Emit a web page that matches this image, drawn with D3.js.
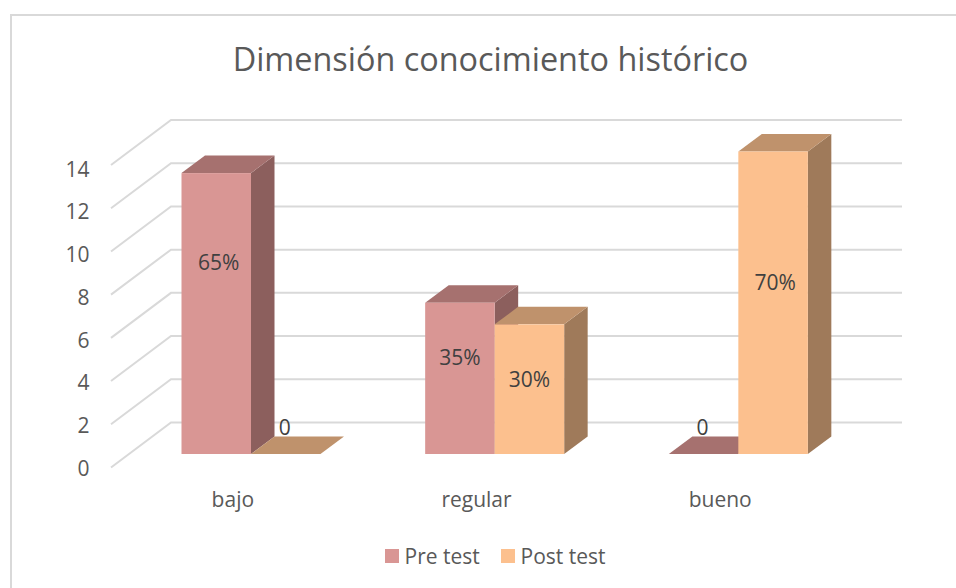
<!DOCTYPE html>
<html>
<head>
<meta charset="utf-8">
<script src="https://cdn.jsdelivr.net/npm/d3@7"></script>
<style>
  html, body { margin: 0; padding: 0; background: #fff; }
  text { font-family: "Open Sans", sans-serif; }
</style>
</head>
<body>
<svg id="chart" width="956" height="588"></svg>
<script>
// chart values
const categories = ["bajo", "regular", "bueno"];
const seriesNames = ["Pre test", "Post test"];
const preTest = [13, 7, 0];
const postTest = [0, 6, 14];
const preLabels = ["65%", "35%", "0"];
const postLabels = ["0", "30%", "70%"];
const yTicks = [0, 2, 4, 6, 8, 10, 12, 14];

const colors = {
  "Pre test": { front: "#d99694", top: "#a6716f", side: "#8c5f5d" },
  "Post test": { front: "#fcc08e", top: "#bf926c", side: "#9f7a5a" }
};

// depth of the fake 3D box: floor and one bar
const wallDx = 60, wallDy = -45;
const barDx = 23.5, barDy = -17.5;
const frontDx = 18, frontDy = -13.5;

const svg = d3.select("#chart");

// outer frame, cut off by the picture on the right and bottom
svg.append("path")
  .attr("d", "M11,588V15H956")
  .attr("fill", "none")
  .attr("stroke", "#d9d9d9")
  .attr("stroke-width", 2);

svg.append("text")
  .attr("x", 490.5)
  .attr("y", 71)
  .attr("text-anchor", "middle")
  .attr("font-size", 32.4)
  .attr("fill", "#595959")
  .text("Dimensión conocimiento histórico");

let xScale = d3.scaleBand().domain(categories).range([111, 842]);
let yScale = d3.scaleLinear().domain([0, 14]).range([467.5, 165]);
let x1Scale = d3.scaleBand().domain(seriesNames).range([52.5, 191.5]);
// tick labels sit on a slightly tighter spacing than the gridlines
let yLabelScale = d3.scaleLinear().domain([0, 14]).range([468.5, 169.5]);

// gridlines, front edge -> back wall -> right end
svg.append("g").selectAll("path").data(yTicks).enter().append("path")
  .attr("d", d => {
    let y = yScale(d);
    return "M111," + y + "L" + (111 + wallDx) + "," + (y + wallDy) + "H902";
  })
  .attr("fill", "none")
  .attr("stroke", "#d9d9d9")
  .attr("stroke-width", 2);

// axes only carry the labels here
let yAxis = d3.axisLeft(yLabelScale).tickValues(yTicks).tickSize(0).tickPadding(0);
let yG = svg.append("g").attr("transform", "translate(89.5,0)").call(yAxis);
yG.select(".domain").remove();
yG.selectAll("text").attr("font-size", 21).attr("fill", "#595959").style("font-family", '"Open Sans", sans-serif');

let xAxis = d3.axisBottom(xScale).tickSize(0).tickPadding(0);
let xG = svg.append("g").attr("transform", "translate(0,492)").call(xAxis);
xG.select(".domain").remove();
xG.selectAll("text").attr("font-size", 21).attr("fill", "#595959").style("font-family", '"Open Sans", sans-serif');

// one row per bar, painted left to right so each box covers the one before
let bars = [];
categories.forEach((c, i) => {
  bars.push({ cat: c, name: "Pre test", value: preTest[i], label: preLabels[i] });
  bars.push({ cat: c, name: "Post test", value: postTest[i], label: postLabels[i] });
});

let groups = svg.append("g").selectAll("g").data(bars).enter().append("g");

function barBox(d) {
  let x0 = xScale(d.cat) + x1Scale(d.name) + frontDx;
  let x1 = x0 + x1Scale.bandwidth();
  let yBase = yScale(0) + frontDy;
  let yTop = yScale(d.value) + frontDy;
  return { x0, x1, yBase, yTop };
}

groups.append("path")
  .attr("d", d => {
    let b = barBox(d);
    return "M" + b.x1 + "," + b.yTop + "L" + (b.x1 + barDx) + "," + (b.yTop + barDy) +
      "V" + (b.yBase + barDy) + "L" + b.x1 + "," + b.yBase + "Z";
  })
  .attr("fill", d => colors[d.name].side);

groups.append("path")
  .attr("d", d => {
    let b = barBox(d);
    return "M" + b.x0 + "," + b.yTop + "L" + (b.x0 + barDx) + "," + (b.yTop + barDy) +
      "H" + (b.x1 + barDx) + "L" + b.x1 + "," + b.yTop + "Z";
  })
  .attr("fill", d => colors[d.name].top);

groups.append("rect")
  .attr("x", d => barBox(d).x0)
  .attr("y", d => barBox(d).yTop)
  .attr("width", x1Scale.bandwidth())
  .attr("height", d => barBox(d).yBase - barBox(d).yTop)
  .attr("fill", d => colors[d.name].front);

// the data labels were placed by hand in the original, so these are nudges off the bar middle
const labelLift = { "65%": 51, "35%": 20, "30%": 9, "70%": 20, "0": 26 };
const labelShift = { "65%": 2.5, "35%": 0, "30%": 0, "70%": 2, "0": -1 };

svg.append("g").selectAll("text").data(bars).enter().append("text")
  .attr("x", d => {
    let b = barBox(d);
    return (b.x0 + b.x1) / 2 + labelShift[d.label];
  })
  .attr("y", d => {
    let b = barBox(d);
    return (b.yTop + b.yBase) / 2 - labelLift[d.label] + 7;
  })
  .attr("text-anchor", "middle")
  .attr("font-size", 21)
  .attr("fill", "#404040")
  .text(d => d.label);

// legend
let legendX = d3.scaleOrdinal().domain(seriesNames).range([385, 501]);
let legend = svg.append("g").selectAll("g").data(seriesNames).enter().append("g")
  .attr("transform", d => "translate(" + legendX(d) + ",549)");
legend.append("rect")
  .attr("width", 14)
  .attr("height", 14)
  .attr("fill", d => colors[d].front);
legend.append("text")
  .attr("x", 19.5)
  .attr("y", 15)
  .attr("font-size", 21)
  .attr("fill", "#595959")
  .text(d => d);
</script>
</body>
</html>
